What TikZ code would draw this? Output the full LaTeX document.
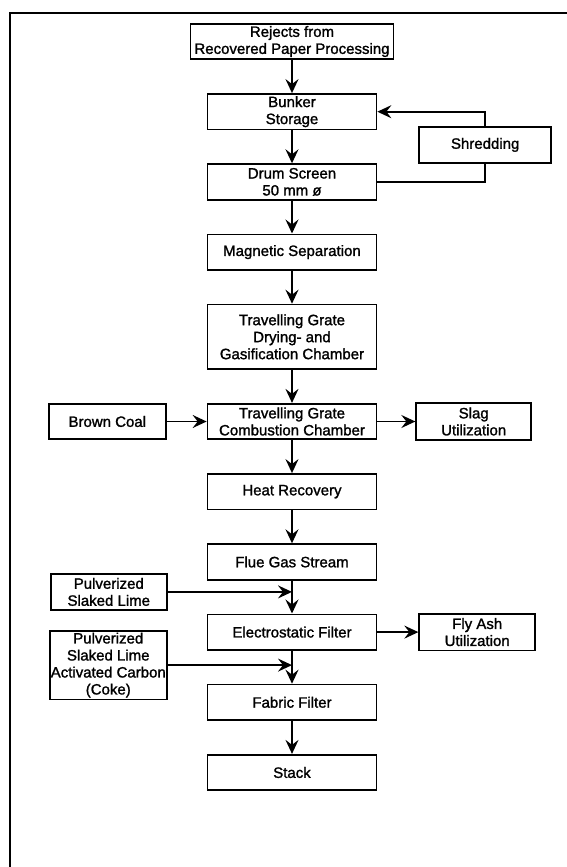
\documentclass[tikz,border=0pt]{standalone}
\usepackage{fontspec}
\setmainfont{Liberation Sans}
\newfontfamily\flowfont{Liberation Sans}[FakeBold=1.4]
\usetikzlibrary{positioning, arrows.meta, calc}
\tikzset{
  stage/.style={draw, line width=1.7pt, align=center, minimum width=169pt,
                minimum height=35.5pt, inner sep=1pt, font=\flowfont\fontsize{15}{17}\selectfont},
  feed/.style={stage, minimum width=116pt, minimum height=35.5pt},
  ar/.style={-{Stealth[length=14pt, width=13pt, inset=5pt]}, line width=1.7pt},
  ln/.style={line width=1.7pt},
  frame/.style={line width=2.2pt},
}

\begin{document}
\begin{tikzpicture}[node distance=33pt and 40pt]
  \useasboundingbox (0,0) rectangle (567pt,-867pt);
  \draw[frame] (10pt,-867pt) |- (567pt,-13pt);

  % main process column
  \node[stage, minimum width=203pt] (rejects) at (292pt,-41.5pt)
    {Rejects from\\Recovered Paper Processing};
  \node[stage, below=of rejects] (bunker) {Bunker\\Storage};
  \node[stage, below=of bunker] (drum) {Drum Screen\\50 mm ø};
  \node[stage, below=of drum] (magnet) {Magnetic Separation};
  \node[stage, below=of magnet, minimum height=64.5pt] (drying)
    {Travelling Grate\\Drying- and\\Gasification Chamber};
  \node[stage, below=of drying] (combust) {Travelling Grate\\Combustion Chamber};
  \node[stage, below=of combust] (heat) {Heat Recovery};
  \node[stage, below=of heat] (flue) {Flue Gas Stream};
  \node[stage, below=of flue] (electro) {Electrostatic Filter};
  \node[stage, below=of electro] (fabric) {Fabric Filter};
  \node[stage, below=of fabric] (stack) {Stack};

  % side feeds and outputs
  \node[feed, right=41pt of drum, yshift=37pt, minimum width=132pt] (shred) {Shredding};
  \node[feed, left=of combust, minimum width=117pt] (coal) {Brown Coal};
  \node[feed, right=38pt of combust, minimum width=115pt, minimum height=36.5pt] (slag) {Slag\\Utilization};
  \node[feed, left=39pt of flue, yshift=-30pt, minimum height=36.5pt] (lime) {Pulverized\\Slaked Lime};
  \node[feed, left=39pt of electro, yshift=-33pt, minimum width=115pt, minimum height=68.5pt] (limecarb)
    {Pulverized\\Slaked Lime\\Activated Carbon\\(Coke)};
  \node[feed, right=41pt of electro, minimum height=36.5pt] (flyash) {Fly Ash\\Utilization};

  \coordinate (limein) at (flue.south |- lime.east);
  \coordinate (carbin) at (electro.south |- limecarb.east);

  % main flow
  \draw[ar] (rejects) -- (bunker);
  \draw[ar] (bunker) -- (drum);
  \draw[ar] (drum) -- (magnet);
  \draw[ar] (magnet) -- (drying);
  \draw[ar] (drying) -- (combust);
  \draw[ar] (combust) -- (heat);
  \draw[ar] (heat) -- (flue);
  \draw[ar] (flue) -- (electro);
  \draw[ar] (electro) -- (fabric);
  \draw[ar] (fabric) -- (stack);
  % oversize back through shredding
  \draw[ln] (drum.east) -| (shred.south);
  \draw[ar] (shred.north) |- (bunker.east);
  % feeds in, residues out
  \draw[ar] (coal) -- (combust);
  \draw[ar] (combust) -- (slag);
  \draw[ar] (lime.east) -- (limein);
  \draw[ar] (limecarb.east) -- (carbin);
  \draw[ar] (electro) -- (flyash);
\end{tikzpicture}
\end{document}
